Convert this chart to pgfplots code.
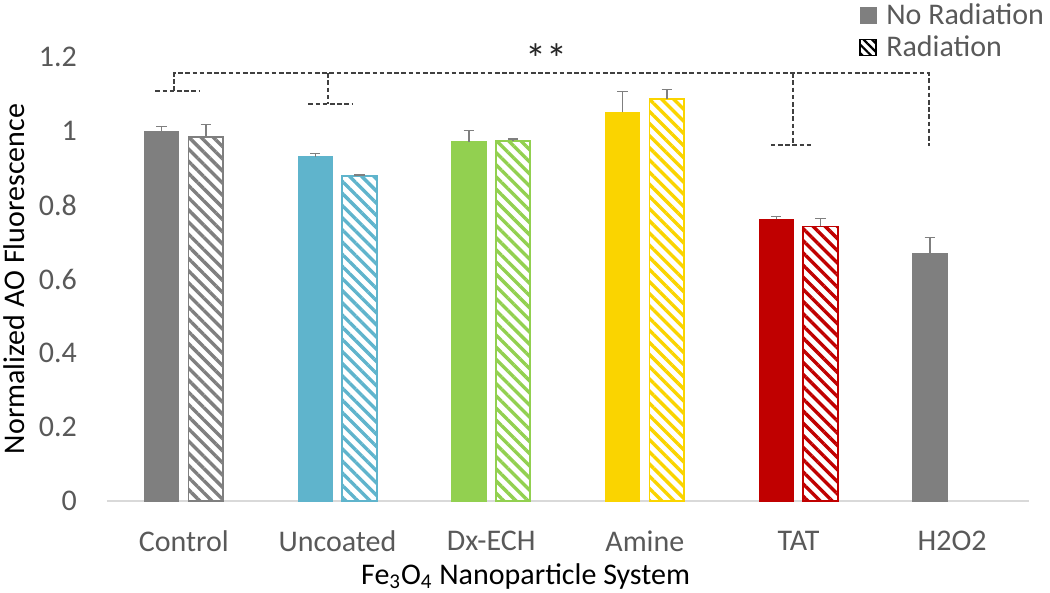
\documentclass[border=0pt]{standalone}
\usepackage{fontspec}
\setmainfont{Carlito}
\usepackage{pgfplots}
\pgfplotsset{compat=1.18}
\usetikzlibrary{patterns.meta}
\definecolor{cgray}{HTML}{7F7F7F}
\definecolor{cblue}{HTML}{5FB4CC}
\definecolor{cgreen}{HTML}{92D050}
\definecolor{cyellow}{HTML}{FAD400}
\definecolor{cred}{HTML}{C00000}
\definecolor{txt}{HTML}{595959}
\definecolor{brkcol}{HTML}{404040}
\definecolor{axl}{HTML}{D9D9D9}
\pgfplotsset{
 errs/.style={error bars/.cd, y dir=plus, y explicit,
   error bar style={cgray, line width=0.7pt, solid},
   error mark options={cgray, rotate=90, mark size=2.6pt, line width=0.7pt, solid}},
 nr/.style={ybar, bar width=0.224, bar shift=0, fill=#1, draw=#1, forget plot, errs},
 rr/.style={ybar, bar width=0.224, bar shift=0, draw=#1, line width=0.9pt, pattern={Lines[angle=-45,distance=4.3pt,line width=1.7pt]}, pattern color=#1, forget plot, errs},
 bracket/.style={draw=brkcol, line width=0.85pt, dash pattern=on 2.3pt off 1.3pt, forget plot},
}
\begin{document}
\begin{tikzpicture}
\begin{axis}[
 name=ax,
 scale only axis, width=461pt, height=222pt,
 xmin=-0.5, xmax=5.5, ymin=0, ymax=1.2,
 xtick={0,1,2,3,4,5},
 xticklabels={Control,Uncoated,Dx-ECH,Amine,TAT,H2O2},
 ytick={0,0.2,0.4,0.6,0.8,1,1.2},
 yticklabels={0,0.2,0.4,0.6,0.8,1,1.2},
 axis x line*=bottom, axis y line*=left,
 y axis line style={draw=none},
 x axis line style={draw=axl, line width=0.9pt, -},
 major tick length=0pt,
 clip=false,
 font=\fontsize{15}{18}\selectfont,
 tick label style={text=txt},
 label style={text=txt},
 xticklabel style={yshift=-11.5pt},
 yticklabel style={xshift=-11.5pt},
 xlabel={Fe\textsubscript{3}O\textsubscript{4} Nanoparticle System},
 ylabel={Normalized AO Fluorescence},
 every axis x label/.style={at={(axis description cs:0.454,-0.169)}, anchor=center},
 every axis y label/.style={at={(axis description cs:-0.101,0.5)}, anchor=center, rotate=90},
 legend style={at={(axis description cs:0.815,1.132)}, anchor=north west, draw=none, fill=none, inner sep=0pt, row sep=-1pt, text=txt, font=\fontsize{15}{18}\selectfont, nodes={inner sep=2.5pt}},
 legend cell align=left,
]
\addplot[nr=cgray]   coordinates {(-0.145,1.000) +- (0,0.012)};
\addplot[rr=cgray]   coordinates {(0.143,0.984) +- (0,0.033)};
\addplot[nr=cblue]   coordinates {(0.855,0.931) +- (0,0.008)};
\addplot[rr=cblue]   coordinates {(1.143,0.879) +- (0,0.002)};
\addplot[nr=cgreen]  coordinates {(1.855,0.971) +- (0,0.030)};
\addplot[rr=cgreen]  coordinates {(2.143,0.973) +- (0,0.005)};
\addplot[nr=cyellow] coordinates {(2.855,1.050) +- (0,0.057)};
\addplot[rr=cyellow] coordinates {(3.143,1.086) +- (0,0.026)};
\addplot[nr=cred]    coordinates {(3.855,0.761) +- (0,0.008)};
\addplot[rr=cred]    coordinates {(4.143,0.742) +- (0,0.022)};
\addplot[nr=cgray]   coordinates {(4.855,0.670) +- (0,0.042)};
% significance bracket
\addplot[bracket] coordinates {(-0.185,1.108) (0.10,1.108)};
\addplot[bracket] coordinates {(-0.062,1.108) (-0.062,1.156) (4.85,1.156) (4.85,0.960)};
\addplot[bracket] coordinates {(0.94,1.156) (0.94,1.073)};
\addplot[bracket] coordinates {(0.81,1.073) (1.096,1.073)};
\addplot[bracket] coordinates {(3.964,1.156) (3.964,0.963)};
\addplot[bracket] coordinates {(3.82,0.963) (4.10,0.963)};
\node[text=black!85, font=\fontsize{21}{22}\selectfont, inner sep=0pt] at (axis cs:2.36,1.195) {**};
\addlegendimage{legend image code/.code={\fill[cgray] (0pt,-4pt) rectangle (8pt,4pt); \path (0pt,0pt) (10.5pt,0pt);}}
\addlegendentry{No Radiation}
\addlegendimage{legend image code/.code={\draw[black, line width=0.8pt, pattern={Lines[angle=-45,distance=3pt,line width=1.1pt]}, pattern color=black] (0pt,-4pt) rectangle (8pt,4pt); \path (0pt,0pt) (10.5pt,0pt);}}
\addlegendentry{Radiation}
\end{axis}
\pgfresetboundingbox
\path (ax.south west) ++(-53.5pt,-46pt) rectangle ++(525pt,296.5pt);
\end{tikzpicture}
\end{document}
